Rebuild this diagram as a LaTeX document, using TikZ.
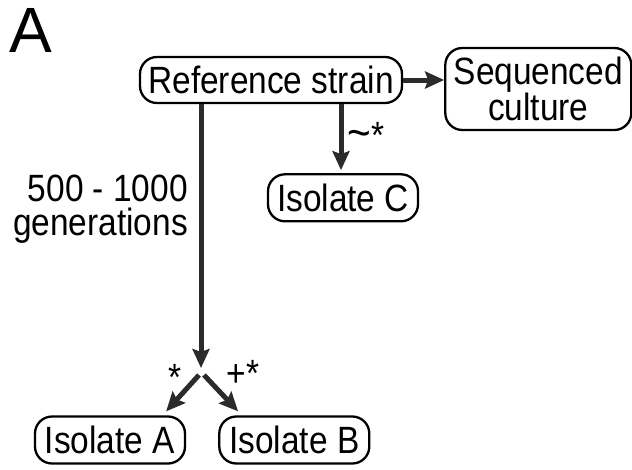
\documentclass[tikz,border=0pt]{standalone}
\usepackage{fontspec}
\setmainfont{Liberation Sans}
\newfontfamily\narrowfont{Liberation Sans}[FakeStretch=0.88]
\usetikzlibrary{arrows.meta,positioning}
\definecolor{arrowgray}{HTML}{2B2B2B}
\tikzset{
  block/.style={rectangle,rounded corners=17pt,draw=black,line width=2.3pt,fill=white,
    minimum width=150pt,minimum height=47pt,align=center,inner sep=0pt,
    font=\narrowfont\fontsize{38}{33}\selectfont},
  arrow/.style={-{Stealth[length=19pt,width=17pt,inset=3pt]},line width=5pt,draw=arrowgray},
  lbl/.style={inner sep=0pt,font=\narrowfont\fontsize{38}{33}\selectfont}
}

\begin{document}
\begin{tikzpicture}[x=1pt,y=1pt]
\useasboundingbox (0,0) rectangle (632,-469);
\node[anchor=base west,inner sep=0pt,font=\fontsize{64}{64}\selectfont] (panel) at (9,-52) {A};

\node[block,minimum width=262pt,minimum height=46pt] (ref) at (271,-80) {Reference strain};
\node[block,minimum width=186pt,minimum height=82pt,right=41pt of ref,yshift=-9pt] (seq) {Sequenced\\culture};
\node[block,below=69pt of ref,xshift=72pt] (isoC) {Isolate C};

\node[block] (isoA) at (110,-440) {Isolate A};
\node[block,right=32pt of isoA] (isoB) {Isolate B};

\coordinate (fork) at (201,-368);

\node[lbl,anchor=base east] (genA) at (188,-201) {500 - 1000};
\node[lbl,anchor=base east] (genB) at (188,-235) {generations};
\node[lbl,anchor=base] (tildeC) at (366,-148) {{\fontsize{46}{46}\selectfont\textasciitilde}*};
\node[lbl,anchor=base] (starA) at (175,-390) {*};
\node[lbl,anchor=base] (plusB) at (243,-386) {+*};

\draw[arrow] (ref.east) -- (ref.east -| seq.west);
\draw[arrow,shorten >=3pt] ([xshift=-2pt]isoC.north |- ref.south) -- ([xshift=-2pt]isoC.north);
\draw[arrow] (ref.south -| fork) -- (fork);
\draw[arrow] ([shift={(-2pt,-7pt)}]fork) -- ([shift={(-20pt,4pt)}]isoA.north east);
\draw[arrow] ([shift={(3pt,-7pt)}]fork) -- ([shift={(20pt,4pt)}]isoB.north west);
\end{tikzpicture}
\end{document}
